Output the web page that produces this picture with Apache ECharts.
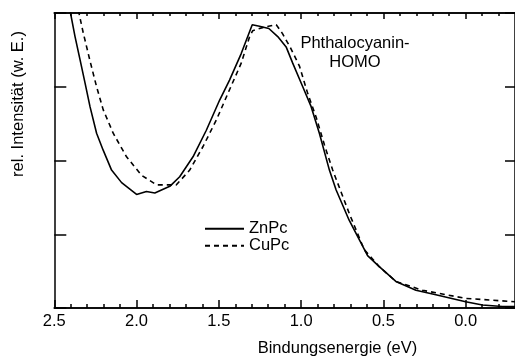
<!DOCTYPE html>
<html>
<head>
<meta charset="utf-8">
<title>ZnPc / CuPc HOMO</title>
<script src="https://cdn.jsdelivr.net/npm/echarts@6/dist/echarts.min.js"></script>
<style>
  html, body { margin: 0; padding: 0; background: #fff; }
  #chart { width: 515px; height: 358px; }
</style>
</head>
<body>
<div id="chart"></div>
<script>
// Binding energy (eV) and relative intensity (arb. units) of the ZnPc spectrum
const energyZnPc = [2.44, 2.405, 2.374, 2.343, 2.313, 2.283, 2.243, 2.203, 2.152, 2.091,
  2.000, 1.940, 1.889, 1.798, 1.738, 1.657, 1.576, 1.495, 1.435, 1.364,
  1.297, 1.253, 1.196, 1.142, 1.091, 1.051, 0.990, 0.939, 0.889, 0.828,
  0.787, 0.708, 0.596, 0.525, 0.424, 0.302, 0.181, 0.0, -0.102, -0.223, -0.30];
const intensityZnPc = [4.5, 4.04, 3.68, 3.36, 3.05, 2.73, 2.37, 2.14, 1.87, 1.70,
  1.54, 1.58, 1.56, 1.65, 1.78, 2.05, 2.41, 2.82, 3.09, 3.45,
  3.84, 3.82, 3.79, 3.68, 3.54, 3.32, 3.00, 2.73, 2.37, 1.87,
  1.60, 1.19, 0.71, 0.56, 0.36, 0.24, 0.18, 0.085, 0.04, 0.02, 0.02];

// Binding energy (eV) and relative intensity of the CuPc spectrum
const energyCuPc = [2.375, 2.354, 2.324, 2.284, 2.243, 2.203, 2.142, 2.061, 1.970, 1.879,
  1.758, 1.677, 1.596, 1.515, 1.435, 1.364, 1.313, 1.294, 1.222, 1.151,
  1.113, 1.065, 1.010, 0.960, 0.909, 0.858, 0.808, 0.707, 0.616, 0.525,
  0.424, 0.262, 0.0, -0.30];
const intensityCuPc = [4.4, 4.04, 3.73, 3.36, 3.00, 2.69, 2.37, 2.05, 1.80, 1.67,
  1.67, 1.87, 2.19, 2.55, 2.96, 3.32, 3.68, 3.76, 3.81, 3.84,
  3.72, 3.53, 3.28, 2.91, 2.59, 2.21, 1.87, 1.28, 0.79, 0.56,
  0.36, 0.24, 0.13, 0.085];

// Axis ticks
const xMajorTicks = [2.5, 2.0, 1.5, 1.0, 0.5, 0.0];
const xMinorTicks = [2.4, 2.3, 2.2, 2.1, 1.9, 1.8, 1.7, 1.6, 1.4, 1.3, 1.2, 1.1,
  0.9, 0.8, 0.7, 0.6, 0.4, 0.3, 0.2, 0.1, -0.1, -0.2];
const yTicks = [0, 1, 2, 3, 4];

const seriesNames = ['ZnPc', 'CuPc'];
const annotation = ['Phthalocyanin-', 'HOMO'];
const xTitle = 'Bindungsenergie (eV)';
const yTitle = 'rel. Intensität (w. E.)';

const FONT = '"Liberation Sans", Arial, Helvetica, sans-serif';
const FS = 16.5;
const X_MIN = -0.3, X_MAX = 2.5;

function pairs(xs, ys) { return xs.map((x, i) => [x, ys[i]]); }

function xAxisDef(position, ticks, len, showLabel) {
  return {
    type: 'value', position: position, inverse: true,
    min: X_MIN, max: X_MAX,
    axisLine: { show: true, onZero: false, lineStyle: { color: '#000', width: 1.5 } },
    axisTick: { show: true, inside: true, length: len, customValues: ticks,
                lineStyle: { color: '#000', width: 1.5 } },
    axisLabel: showLabel ? {
      show: true, customValues: ticks, margin: 5, color: '#000',
      fontFamily: FONT, fontSize: FS,
      formatter: v => Number(v).toFixed(1)
    } : { show: false },
    splitLine: { show: false }
  };
}

function yAxisDef(position, len) {
  return {
    type: 'value', position: position, min: 0, max: 4,
    axisLine: { show: true, onZero: false, lineStyle: { color: '#000', width: 1.5 } },
    axisTick: { show: true, inside: true, length: len, customValues: yTicks,
                lineStyle: { color: '#000', width: 1.5 } },
    axisLabel: { show: false },
    splitLine: { show: false }
  };
}

// One legend per series so each row can be placed on its own
function legendDef(name, top) {
  return {
    data: [name], left: 204, top: top, padding: 0,
    itemWidth: 39, itemHeight: 14, selectedMode: false,
    itemStyle: { opacity: 0 },
    textStyle: { color: '#000', fontFamily: FONT, fontSize: FS }
  };
}

const chart = echarts.init(document.getElementById('chart'), null, { renderer: 'canvas' });

chart.setOption({
  animation: false,
  backgroundColor: '#fff',
  grid: { left: 54.3, top: 13, right: -1, bottom: 50, containLabel: false },
  xAxis: [
    xAxisDef('bottom', xMajorTicks, 8, true),
    xAxisDef('bottom', xMinorTicks, 4, false),
    xAxisDef('top', xMajorTicks, 6, false),
    xAxisDef('top', xMinorTicks, 3, false)
  ],
  yAxis: [yAxisDef('left', 12), yAxisDef('right', 10)],
  legend: [legendDef(seriesNames[0], 220.3), legendDef(seriesNames[1], 237.3)],
  series: [
    {
      name: seriesNames[0], type: 'line', xAxisIndex: 0, yAxisIndex: 0,
      data: pairs(energyZnPc, intensityZnPc), symbol: 'none', clip: true,
      lineStyle: { color: '#000', width: 1.6, type: 'solid' },
      itemStyle: { color: '#000' }
    },
    {
      name: seriesNames[1], type: 'line', xAxisIndex: 0, yAxisIndex: 0,
      data: pairs(energyCuPc, intensityCuPc), symbol: 'none', clip: true,
      lineStyle: { color: '#000', width: 1.6, type: [5, 4] },
      itemStyle: { color: '#000' }
    }
  ],
  graphic: [
    {
      type: 'text', x: 355, y: 52.5, silent: true,
      style: { text: annotation.join('\n'), fill: '#000', fontFamily: FONT, fontSize: FS,
               lineHeight: 19, align: 'center', verticalAlign: 'middle' }
    },
    {
      type: 'text', x: 337.5, y: 348, silent: true,
      style: { text: xTitle, fill: '#000', fontFamily: FONT, fontSize: FS,
               align: 'center', verticalAlign: 'middle' }
    },
    {
      type: 'text', x: 18, y: 104, rotation: Math.PI / 2, silent: true,
      style: { text: yTitle, fill: '#000', fontFamily: FONT, fontSize: FS,
               align: 'center', verticalAlign: 'middle' }
    }
  ]
});
</script>
</body>
</html>
